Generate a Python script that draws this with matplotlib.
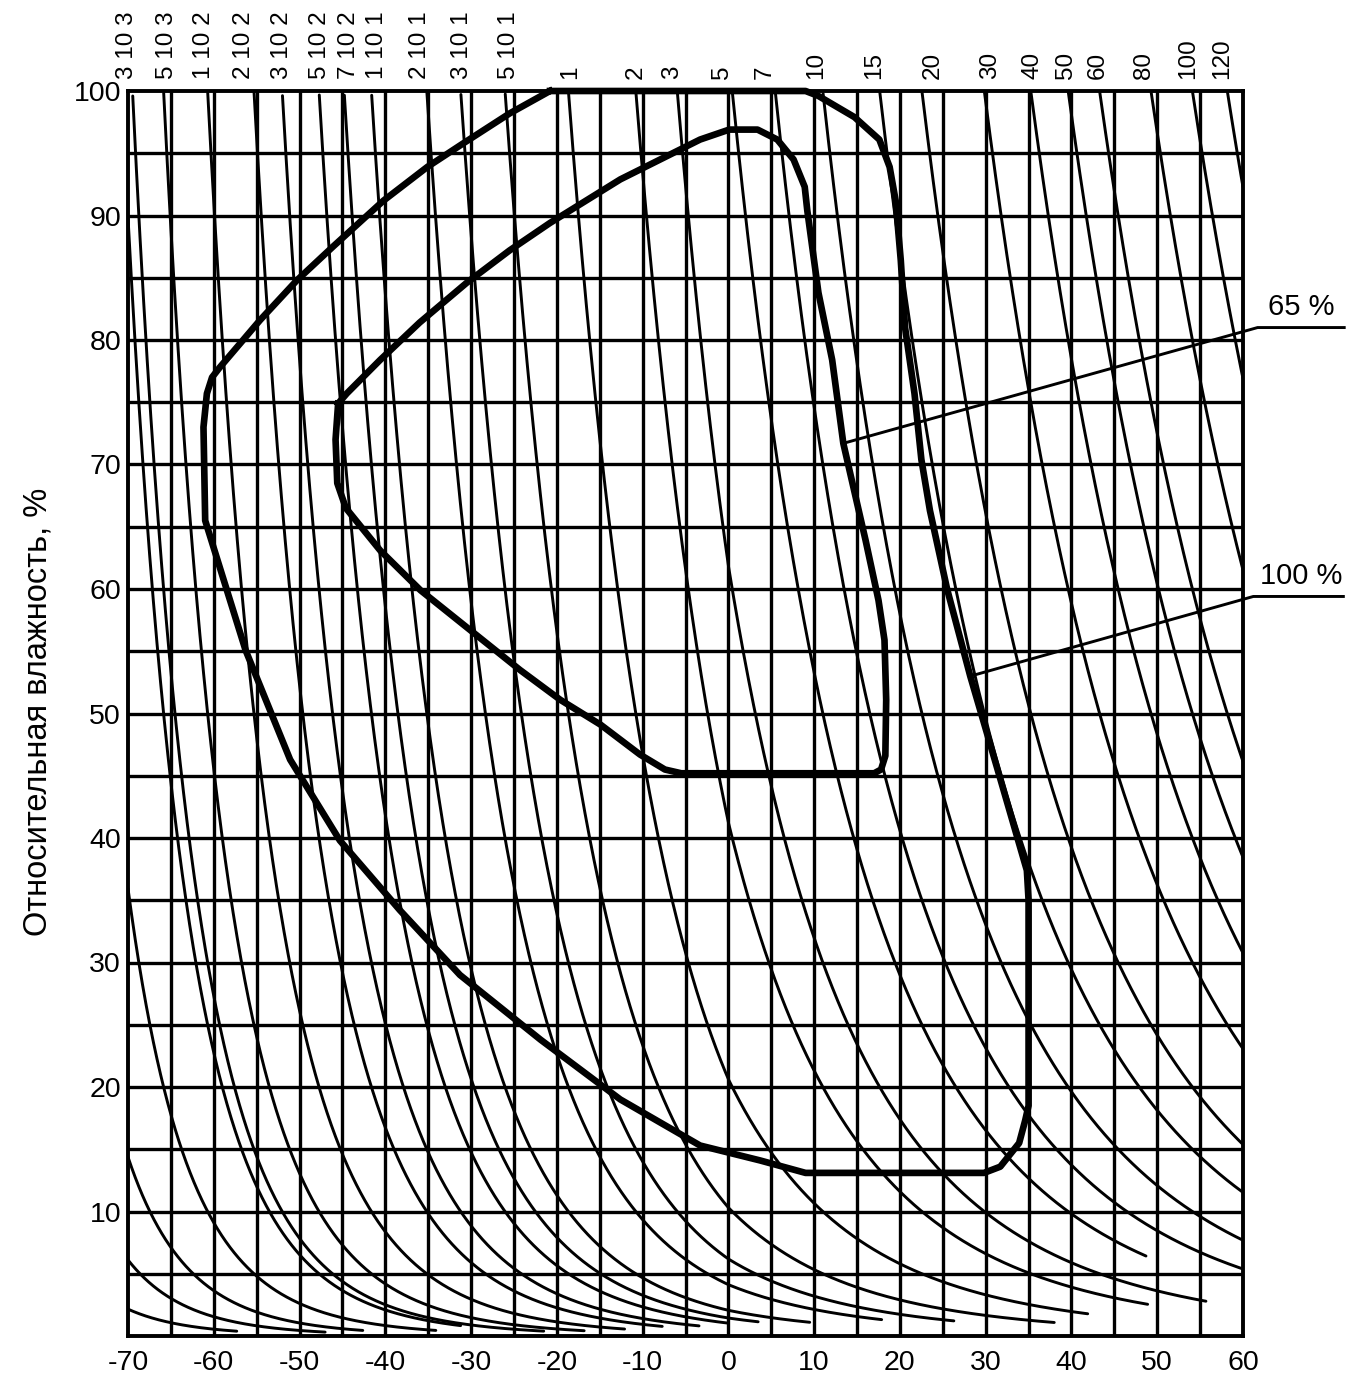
import numpy as np
import matplotlib
matplotlib.use("Agg")
import matplotlib.pyplot as plt
from matplotlib import font_manager

names = {f.name for f in font_manager.fontManager.ttflist}
FONT = "Liberation Sans" if "Liberation Sans" in names else "DejaVu Sans"
plt.rcParams['font.family'] = [FONT, 'DejaVu Sans']

# ---------------- data ----------------
x_ticks = list(range(-70, 61, 10))
y_ticks = list(range(10, 101, 10))

# absolute humidity iso-lines, g/m^3 (first five unlabeled)
curve_ah = [6e-5, 1.7e-4, 4e-4, 1e-3, 2.5e-3,
            3e-3, 5e-3, 1e-2, 2e-2, 3e-2, 5e-2, 7e-2, 1e-1, 2e-1, 3e-1, 5e-1,
            1, 2, 3, 5, 7, 10, 15, 20, 30, 40, 50, 60, 80, 100, 120]
# temperature where each drawn curve stops
curve_end_T = [-57.3, -47.0, -42.6, -34.1, -31.2,
               -21.5, -16.8, -12.1, -7.7, -3.4, 0.0, 3.5, 9.5, 17.9, 26.3, 38.0,
               41.9, 48.9, 55.7, 48.7, 60, 60, 60, 60, 60, 60, 60, 60, 60, 60, 60]

top_labels = ["3 10 3", "5 10 3", "1 10 2", "2 10 2", "3 10 2", "5 10 2", "7 10 2",
              "1 10 1", "2 10 1", "3 10 1", "5 10 1",
              "1", "2", "3", "5", "7", "10", "15", "20", "30", "40", "50", "60",
              "80", "100", "120"]
top_label_T = [-70.1, -65.5, -61.1, -56.5, -52.1, -47.6, -44.2, -41.0, -36.0, -31.1,
               -25.6, -18.5, -10.8, -6.6, -0.7, 4.2, 10.2, 17.0, 23.8, 30.5, 35.5,
               39.4, 43.1, 48.5, 53.6, 57.6]

# climate envelope, 100 % (outer)
outer_T = [-20.8, 9.0, 10.5, 14.7, 17.6, 18.8, 19.5, 20.1, 20.6, 21.7, 22.5, 23.5,
           25.5, 28.2, 31.6, 34.8, 35.0, 35.0, 34.6, 33.9, 31.7, 29.8, 9.0, 3.7,
           -3.3, -12.6, -21.9, -31.3, -38.3, -45.3, -51.1, -56.3, -61.0, -61.2,
           -60.8, -60.2, -59.3, -54.6, -50.3, -46.1, -40.2, -35.1, -30.9, -25.5, -20.8]
outer_RH = [100, 100, 99.6, 97.9, 96.1, 93.9, 91.2, 86.4, 81.0, 75.7, 70.4, 66.3,
            60.0, 53.0, 45.0, 37.4, 35.0, 18.5, 17.3, 15.5, 13.6, 13.1, 13.1, 14.1,
            15.3, 19.0, 23.8, 29.0, 34.2, 39.8, 46.3, 55.1, 65.5, 73.0,
            75.7, 77.0, 77.8, 81.6, 84.8, 87.5, 91.2, 93.9, 95.8, 98.2, 100]

# climate envelope, 65 % (inner)
inner_T = [-45.5, -44.5, -40.6, -36.0, -30.5, -25.5, -20.8, -12.6, -3.3, 0.1, 3.4,
           5.7, 7.6, 8.9, 9.2, 10.5, 12.1, 13.4, 16.0, 17.5, 18.2, 18.4, 18.3, 17.8,
           17.0, -5.5, -7.4, -10.3, -14.9, -19.6, -24.3, -30.1, -35.9, -40.6, -44.6,
           -45.6, -45.8, -45.5]
inner_RH = [74.9, 75.7, 78.4, 81.4, 84.6, 87.2, 89.4, 92.9, 96.1, 96.9, 96.9,
            96.1, 94.5, 92.3, 90.4, 83.8, 78.4, 71.7, 63.9, 59.1, 55.9, 51.1, 46.6, 45.5,
            45.2, 45.2, 45.5, 46.7, 49.1, 51.1, 53.5, 56.7, 59.9, 63.1, 66.5,
            68.5, 72.0, 74.9]

# leader lines for the envelope labels
lead65_T = [13.4, 61.7, 71.8]
lead65_RH = [71.7, 81.0, 81.0]
lead100_T = [28.2, 61.2, 71.7]
lead100_RH = [53.0, 59.4, 59.4]


def sat_ah(T):
    """Saturation absolute humidity, g/m^3 (ice below 0 degC, water above)."""
    T = np.asarray(T, dtype=float)
    e = np.where(T < 0,
                 611.2 * np.exp(22.46 * T / (272.62 + T)),
                 611.2 * np.exp(17.62 * T / (243.12 + T)))
    return e / (461.5 * (T + 273.15)) * 1000.0


# ---------------- figure ----------------
W, H = 1358, 1380
fig = plt.figure(figsize=(W / 100, H / 100), dpi=100)
ax = fig.add_axes([128 / W, 44 / H, (1243 - 128) / W, (1336 - 91) / H])
ax.set_xlim(-70, 60)
ax.set_ylim(0, 100)

# grid
for xv in range(-65, 60, 5):
    ax.axvline(xv, color='black', lw=2.4, zorder=1)
for yv in range(5, 100, 5):
    ax.axhline(yv, color='black', lw=2.4, zorder=1)

# iso-lines of absolute humidity
Tgrid = np.linspace(-70, 60, 4000)
S = sat_ah(Tgrid)
for ah, tend in zip(curve_ah, curve_end_T):
    rh = ah / S * 100.0
    m = (rh <= 100.0) & (Tgrid <= tend)
    ax.plot(Tgrid[m], rh[m], color='black', lw=2.1, zorder=2,
            solid_capstyle='round')

# envelopes
ax.plot(outer_T, outer_RH, color='black', lw=4.8, zorder=3,
        solid_joinstyle='round', clip_on=False)
ax.plot(inner_T, inner_RH, color='black', lw=4.8, zorder=3,
        solid_joinstyle='round')

# leaders & labels
ax.plot(lead65_T, lead65_RH, color='black', lw=2.1, clip_on=False, zorder=4)
ax.plot(lead100_T, lead100_RH, color='black', lw=2.1, clip_on=False, zorder=4)
ax.text(66.8, 81.5, "65 %", fontsize=21, ha='center', va='bottom', clip_on=False)
ax.text(66.8, 59.9, "100 %", fontsize=21, ha='center', va='bottom', clip_on=False)

# top labels
for lab, t in zip(top_labels, top_label_T):
    ax.text(t, 101.0, lab, rotation=90, ha='center', va='bottom',
            fontsize=17.5, clip_on=False)

# axes styling
for sp in ax.spines.values():
    sp.set_linewidth(2.8)
ax.set_xticks(x_ticks)
ax.set_xticklabels([str(v) for v in x_ticks])
ax.set_yticks(y_ticks)
ax.set_yticklabels([str(v) for v in y_ticks])
ax.tick_params(axis='both', length=0, labelsize=20.5)
ax.tick_params(axis='x', pad=10)
ax.tick_params(axis='y', pad=5)

fig.text(38 / W, 1 - 712 / H, "Относительная влажность, %", rotation=90,
         ha='center', va='center', fontsize=23.5)

fig.savefig("out.png", dpi=100)
